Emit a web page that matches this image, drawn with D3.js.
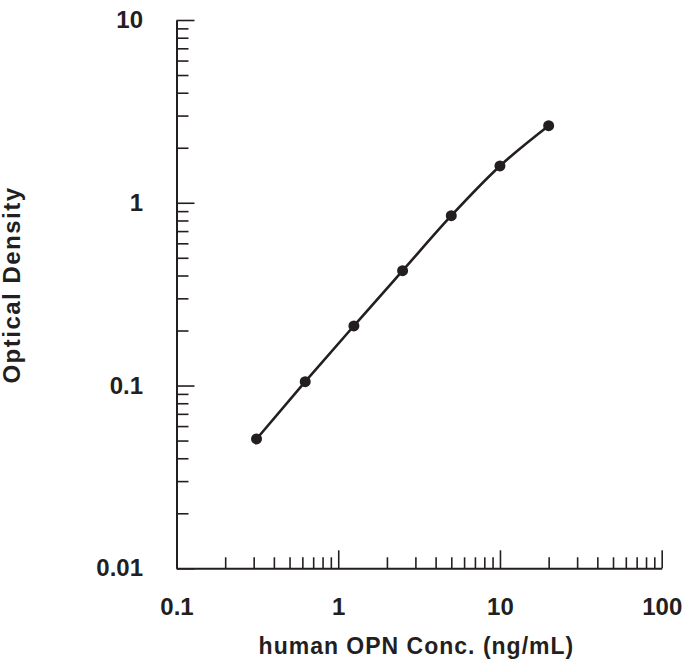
<!DOCTYPE html>
<html>
<head>
<meta charset="utf-8">
<script src="https://cdn.jsdelivr.net/npm/d3@7"></script>
<style>
  body { margin: 0; background: #fff; }
  text { font-family: "Liberation Sans", Arial, sans-serif; font-weight: bold; fill: #231f20; }
</style>
</head>
<body>
<svg id="chart"></svg>
<script>
// standard curve values
var conc = [0.3125, 0.625, 1.25, 2.5, 5, 10, 20];
var od = [0.051, 0.105, 0.212, 0.425, 0.85, 1.59, 2.64];

var xDecades = [0.1, 1, 10, 100];
var xTickLabels = ["0.1", "1", "10", "100"];
var yDecades = [0.01, 0.1, 1, 10];
var yTickLabels = ["0.01", "0.1", "1", "10"];

var width = 685;
var height = 661;
var plotLeft = 176.5, plotRight = 661.7, plotTop = 20, plotBottom = 568.3;
var ink = "#231f20";

var svg = d3.select("#chart").attr("width", width).attr("height", height);

var x = d3.scaleLog().domain([0.1, 100]).range([plotLeft, plotRight]);
var y = d3.scaleLog().domain([0.01, 10]).range([plotBottom, plotTop]);

function isMajor(list, d) {
    return list.some(function(m) { return Math.abs(d / m - 1) < 1e-6; });
}
function labelFor(list, labels) {
    return function(d) {
        for (var i = 0; i < list.length; i++) {
            if (Math.abs(d / list[i] - 1) < 1e-6) return labels[i];
        }
        return "";
    };
}

// y axis: ticks point into the plot, labels on the left
var yAxis = d3.axisLeft(y)
    .tickValues(y.ticks())
    .tickSizeInner(-12)
    .tickSizeOuter(0)
    .tickPadding(33.5)
    .tickFormat(labelFor(yDecades, yTickLabels));

var gy = svg.append("g")
    .attr("transform", "translate(" + plotLeft + ",0)")
    .call(yAxis);
gy.selectAll(".tick line")
    .attr("x2", function(d) { return isMajor(yDecades, d) ? 18 : 12; });

// x axis: ticks point upward
var xAxis = d3.axisBottom(x)
    .tickValues(x.ticks())
    .tickSizeInner(-11)
    .tickSizeOuter(0)
    .tickPadding(29.7)
    .tickFormat(labelFor(xDecades, xTickLabels));

var gx = svg.append("g")
    .attr("transform", "translate(0," + plotBottom + ")")
    .call(xAxis);
gx.selectAll(".tick line")
    .attr("y2", function(d) { return isMajor(xDecades, d) ? -18 : -11; });

svg.selectAll(".domain").attr("stroke", ink).attr("stroke-width", 2);
svg.selectAll(".tick line").attr("stroke", ink).attr("stroke-width", 1.6);
svg.selectAll(".tick text")
    .attr("fill", ink)
    .style("font-size", "24px")
    .style("font-family", "'Liberation Sans', Arial, sans-serif")
    .style("font-weight", "bold");

// axis titles
svg.append("text")
    .attr("x", 416.4)
    .attr("y", 654.3)
    .attr("text-anchor", "middle")
    .style("font-size", "23px")
    .style("letter-spacing", "1px")
    .text("human OPN Conc. (ng/mL)");

svg.append("text")
    .attr("transform", "translate(20,285) rotate(-90)")
    .attr("text-anchor", "middle")
    .style("font-size", "24px")
    .style("letter-spacing", "1.5px")
    .text("Optical Density");

// fitted curve and points
var pts = conc.map(function(c, i) { return [c, od[i]]; });

var line = d3.line()
    .x(function(d) { return x(d[0]); })
    .y(function(d) { return y(d[1]); })
    .curve(d3.curveMonotoneX);

svg.append("path")
    .datum(pts)
    .attr("d", line)
    .attr("fill", "none")
    .attr("stroke", ink)
    .attr("stroke-width", 2.6);

svg.selectAll(".dot")
    .data(pts)
    .enter()
    .append("circle")
    .attr("class", "dot")
    .attr("cx", function(d) { return x(d[0]); })
    .attr("cy", function(d) { return y(d[1]); })
    .attr("r", 5.5)
    .attr("fill", ink);
</script>
</body>
</html>
